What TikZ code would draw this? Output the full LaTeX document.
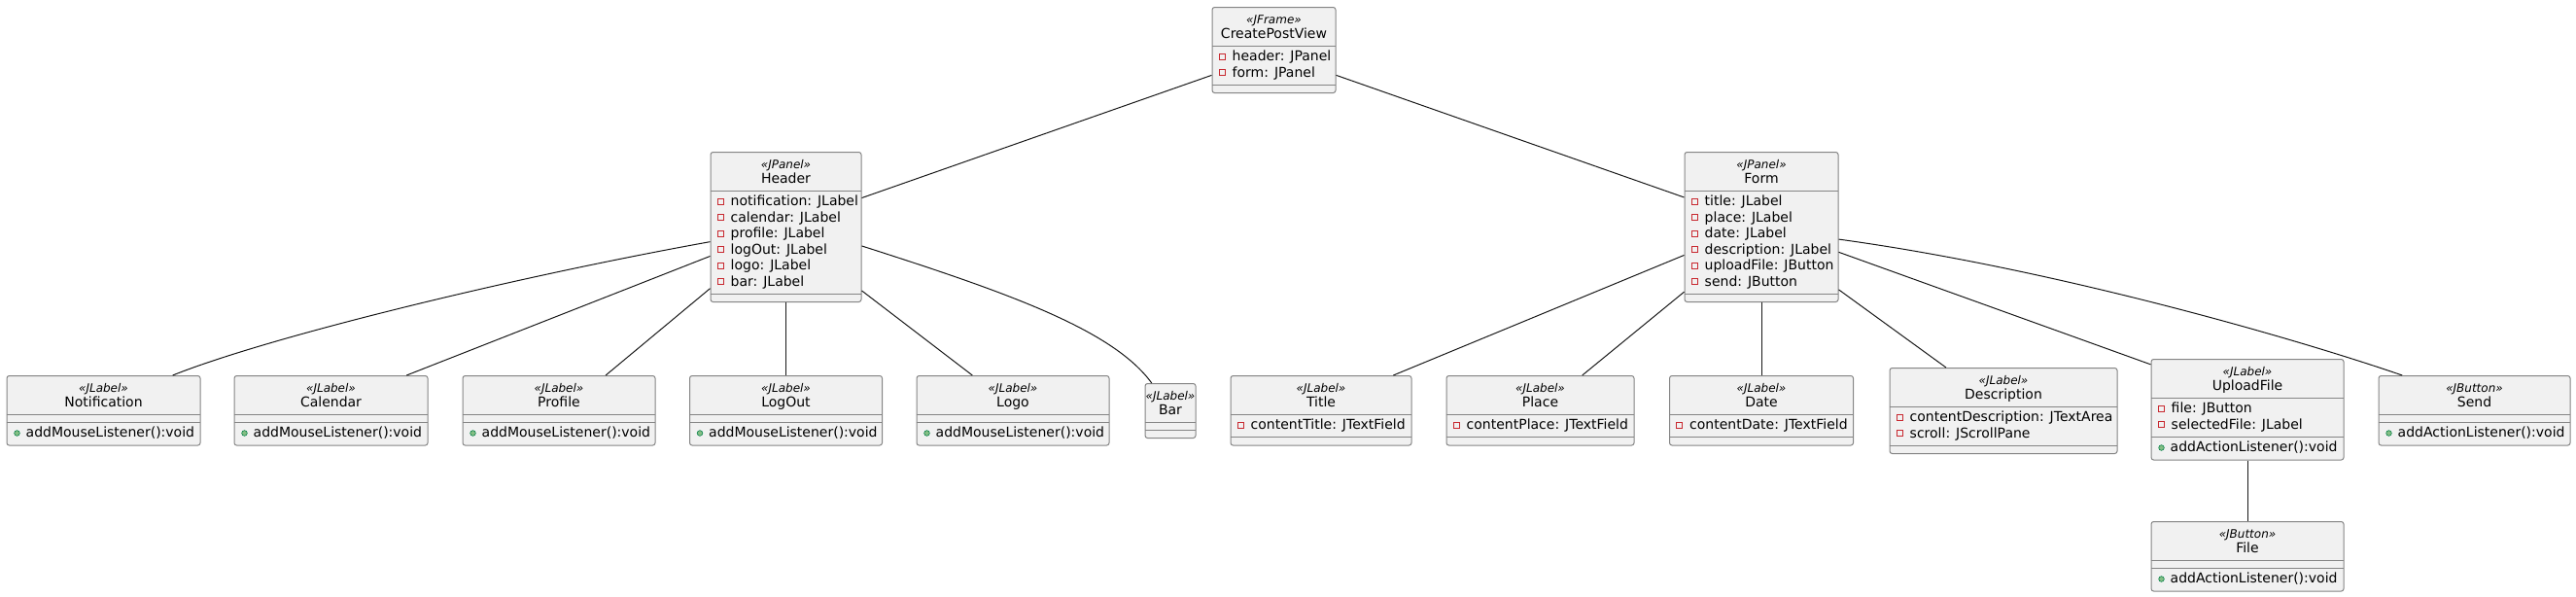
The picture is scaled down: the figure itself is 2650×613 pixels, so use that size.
\documentclass[tikz,border=0pt]{standalone}
\usepackage{fontspec}
\setmainfont{DejaVu Sans}
\usetikzlibrary{calc}

\definecolor{boxfill}{HTML}{F1F1F1}
\definecolor{boxline}{HTML}{858585}
\definecolor{privred}{HTML}{C82930}
\definecolor{pubgreen}{HTML}{84BE84}
\definecolor{publine}{HTML}{038048}
\definecolor{edgeline}{HTML}{181818}

\tikzset{
  umlbox/.style={draw=boxline, fill=boxfill, rounded corners=2.5pt, line width=1pt, inner sep=0pt},
  sepline/.style={draw=boxline, line width=1pt},
  stereo/.style={anchor=base, inner sep=0pt, font=\fontsize{12}{14}\selectfont\itshape},
  cname/.style={anchor=base, inner sep=0pt, font=\fontsize{14}{16}\selectfont},
  member/.style={anchor=base west, inner sep=0pt, font=\fontsize{14}{16}\selectfont},
  privmark/.style={draw=privred, line width=0.9pt},
  pubmark/.style={draw=publine, fill=pubgreen, line width=0.6pt},
  link/.style={draw=edgeline, line width=1pt},
}

% class box: id, centre x, top y, width, stereotype, name, attribute rows, method rows
\newcommand{\umlclass}[8]{%
  \pgfmathsetmacro\attrh{#7==0 ? 8 : 16.5*#7+7}%
  \pgfmathsetmacro\methh{#8==0 ? 8 : 16.5*#8+7}%
  \pgfmathsetmacro\boxh{40+\attrh+\methh}%
  \node[umlbox, anchor=north, minimum width=#4pt, minimum height=\boxh pt] (#1) at (#2,#3) {};
  \node[stereo] (#1-st) at ($(#1.north)+(0,17.5)$) {«#5»};
  \node[cname] (#1-nm) at ($(#1.north)+(0,32)$) {#6};
  \coordinate (#1-a) at ($(#1.north west)+(0,40)$);
  \coordinate (#1-m) at ($(#1-a)+(0,\attrh)$);
  \draw[sepline] (#1-a) -- ++(#4,0);
  \draw[sepline] (#1-m) -- ++(#4,0);
}
% private attribute row
\newcommand{\attr}[3]{%
  \node[member] (#1-a#2) at ($(#1-a)+(21,16.5*#2-1)$) {#3};
  \draw[privmark] ($(#1-a)+(7.5,16.5*#2-8.5)$) rectangle ++(6,6);
}
% public method row
\newcommand{\meth}[3]{%
  \node[member] (#1-m#2) at ($(#1-m)+(20,16.5*#2-1)$) {#3};
  \filldraw[pubmark] ($(#1-m)+(11,16.5*#2-5)$) circle (2.8pt);
}

\begin{document}
\begin{tikzpicture}[x=1pt, y=-1pt]
\useasboundingbox (0,0) rectangle (2650,613);

% frame
\umlclass{cpv}{1310.5}{7}{127}{JFrame}{CreatePostView}{2}{0}
\attr{cpv}{1}{header: JPanel}
\attr{cpv}{2}{form: JPanel}

% panels
\umlclass{hdr}{808.5}{156}{155}{JPanel}{Header}{6}{0}
\attr{hdr}{1}{notification: JLabel}
\attr{hdr}{2}{calendar: JLabel}
\attr{hdr}{3}{profile: JLabel}
\attr{hdr}{4}{logOut: JLabel}
\attr{hdr}{5}{logo: JLabel}
\attr{hdr}{6}{bar: JLabel}

\umlclass{form}{1812}{156}{158}{JPanel}{Form}{6}{0}
\attr{form}{1}{title: JLabel}
\attr{form}{2}{place: JLabel}
\attr{form}{3}{date: JLabel}
\attr{form}{4}{description: JLabel}
\attr{form}{5}{uploadFile: JButton}
\attr{form}{6}{send: JButton}

% header parts
\umlclass{notif}{106.5}{386}{199}{JLabel}{Notification}{0}{1}
\meth{notif}{1}{addMouseListener():void}
\umlclass{cal}{340.5}{386}{199}{JLabel}{Calendar}{0}{1}
\meth{cal}{1}{addMouseListener():void}
\umlclass{prof}{575}{386}{198}{JLabel}{Profile}{0}{1}
\meth{prof}{1}{addMouseListener():void}
\umlclass{logout}{808.5}{386}{198}{JLabel}{LogOut}{0}{1}
\meth{logout}{1}{addMouseListener():void}
\umlclass{logo}{1042}{386}{198}{JLabel}{Logo}{0}{1}
\meth{logo}{1}{addMouseListener():void}
\umlclass{bar}{1204}{394}{52}{JLabel}{Bar}{0}{0}

% form parts
\umlclass{title}{1359}{386}{186}{JLabel}{Title}{1}{0}
\attr{title}{1}{contentTitle: JTextField}
\umlclass{place}{1584.5}{386}{193}{JLabel}{Place}{1}{0}
\attr{place}{1}{contentPlace: JTextField}
\umlclass{date}{1812}{386}{189}{JLabel}{Date}{1}{0}
\attr{date}{1}{contentDate: JTextField}
\umlclass{desc}{2061}{378}{234}{JLabel}{Description}{2}{0}
\attr{desc}{1}{contentDescription: JTextArea}
\attr{desc}{2}{scroll: JScrollPane}
\umlclass{upl}{2312}{369}{198}{JLabel}{UploadFile}{2}{1}
\attr{upl}{1}{file: JButton}
\attr{upl}{2}{selectedFile: JLabel}
\meth{upl}{1}{addActionListener():void}
\umlclass{send}{2545.5}{386}{197}{JButton}{Send}{0}{1}
\meth{send}{1}{addActionListener():void}
\umlclass{file}{2312}{536}{198}{JButton}{File}{0}{1}
\meth{file}{1}{addActionListener():void}

% links
\draw[link] (cpv.202) -- (hdr.21);
\draw[link] (cpv.338) -- (form.159);
\draw[link] (hdr.191) .. controls +(-200,36) and +(100,-40) .. (notif.27);
\draw[link] (hdr.201) -- (cal.25);
\draw[link] (hdr.219) -- (prof.37);
\draw[link] (hdr.south) -- (logout.north);
\draw[link] (hdr.320) -- (logo.139);
\draw[link] (hdr.346) .. controls +(150,48) and +(-40,-55) .. (bar.124);
\draw[link] (form.200) -- (title.26);
\draw[link] (form.220) -- (place.40);
\draw[link] (form.south) -- (date.north);
\draw[link] (form.321) -- (desc.143);
\draw[link] (form.342) -- (upl.155);
\draw[link] (form.351) .. controls +(220,30) and +(-110,-38) .. (send.154);
\draw[link] (upl.south) -- (file.north);
\end{tikzpicture}
\end{document}
